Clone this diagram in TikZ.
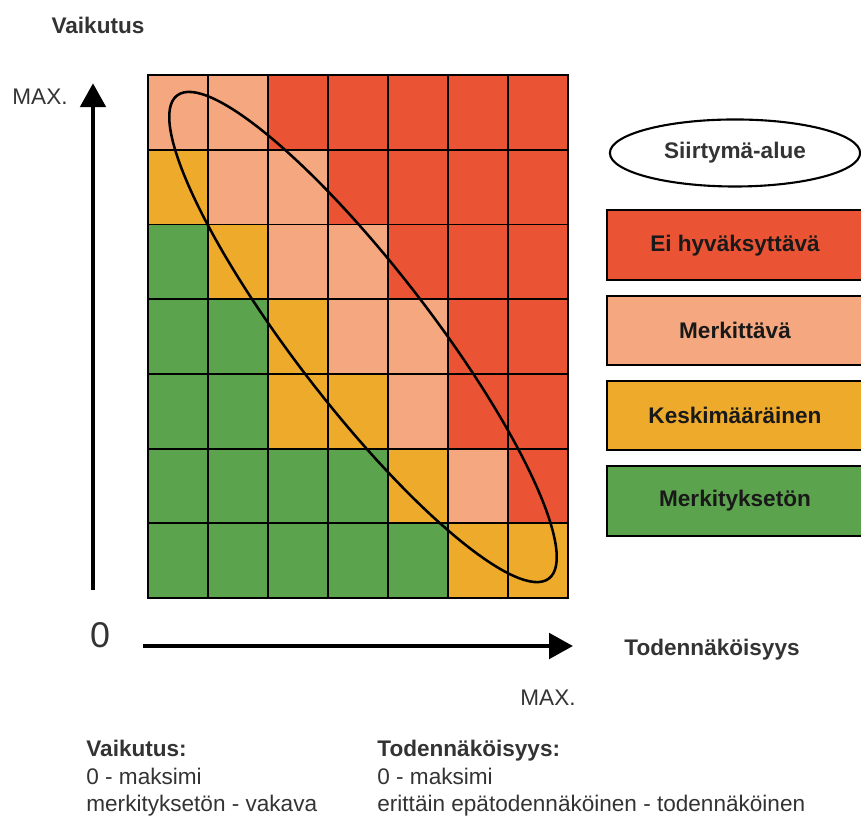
\documentclass[tikz,border=0pt]{standalone}
\usepackage{fontspec}
\setmainfont{Liberation Sans}
\usepackage{xcolor}
\usepackage{tikz}
\usetikzlibrary{arrows.meta, positioning, shapes.geometric}
\definecolor{cellr}{RGB}{234,84,52}
\definecolor{cells}{RGB}{245,168,128}
\definecolor{cello}{RGB}{237,170,43}
\definecolor{cellg}{RGB}{92,163,78}
\colorlet{labeltext}{black!80}
\newcommand{\labelsize}{\fontsize{10.7}{13}\selectfont}

\tikzset{
  cell/.style={draw=black, line width=0.9pt},
  bandline/.style={draw=black, line width=1.2pt},
  axisarrow/.style={line width=2.2pt, -{Triangle[length=4mm, width=4.2mm]}},
  legendbox/.style={draw=black, line width=1pt, minimum width=4.27cm, minimum height=1.16cm,
    font=\labelsize\bfseries, text=black!90},
}

\begin{document}
\begin{tikzpicture}[font=\labelsize, text=labeltext]
    \useasboundingbox (0,0) rectangle (14.35,13.617);

    \foreach \r/\cols in {0/{g,g,g,g,g,o,o}, 1/{g,g,g,g,o,s,r}, 2/{g,g,o,o,s,r,r},
        3/{g,g,o,s,s,r,r}, 4/{g,o,s,s,r,r,r}, 5/{o,s,s,r,r,r,r}, 6/{s,s,r,r,r,r,r}}
        \foreach \c [count=\i from 0] in \cols
            \draw[cell, fill=cell\c] ({2.47+\i}, {3.65+1.245*\r}) rectangle ++(1, 1.245);

    \coordinate (band) at (6.05, 8.0);
    \draw[bandline, rotate around={-52.4:(band)}] (band) ellipse [x radius=5.08, y radius=1.14];

    \coordinate (ybase) at (1.55, 3.78);
    \coordinate (ytop) at (1.55, 12.23);
    \draw[axisarrow] (ybase) -- (ytop);
    \coordinate (xbase) at (2.38, 2.85);
    \coordinate (xtop) at (9.55, 2.85);
    \draw[axisarrow] (xbase) -- (xtop);

    \node[font=\labelsize\bfseries] (vaxis) at (1.633, 13.2) {Vaikutus};
    \node (vmax) at (0.667, 12.0) {MAX.};
    \node[font=\fontsize{17}{20}\selectfont] (zero) at (1.667, 3.025) {0};
    \node[font=\labelsize\bfseries] (taxis) at (11.867, 2.783) {Todennäköisyys};
    \node (tmax) at (9.133, 1.983) {MAX.};

    \node[anchor=north west, align=left, inner sep=0pt] (vnote) at (1.433, 1.28)
        {\textbf{Vaikutus:}\\0 - maksimi\\merkityksetön - vakava};
    \node[anchor=north west, align=left, inner sep=0pt] (tnote) at (6.283, 1.28)
        {\textbf{Todennäköisyys:}\\0 - maksimi\\erittäin epätodennäköinen - todennäköinen};

    \node[ellipse, draw=black, line width=1pt, minimum width=4.17cm, minimum height=1.117cm,
        font=\labelsize\bfseries, inner sep=0pt] (transition) at (12.25, 11.067) {Siirtymä-alue};
    \node[legendbox, fill=cellr] (unacceptable) at (12.25, 9.53) {Ei hyväksyttävä};
    \node[legendbox, fill=cells, below=0.225cm of unacceptable] (significant) {Merkittävä};
    \node[legendbox, fill=cello, below=0.225cm of significant] (moderate) {Keskimääräinen};
    \node[legendbox, fill=cellg, below=0.225cm of moderate] (negligible) {Merkityksetön};
  \end{tikzpicture}
\end{document}
